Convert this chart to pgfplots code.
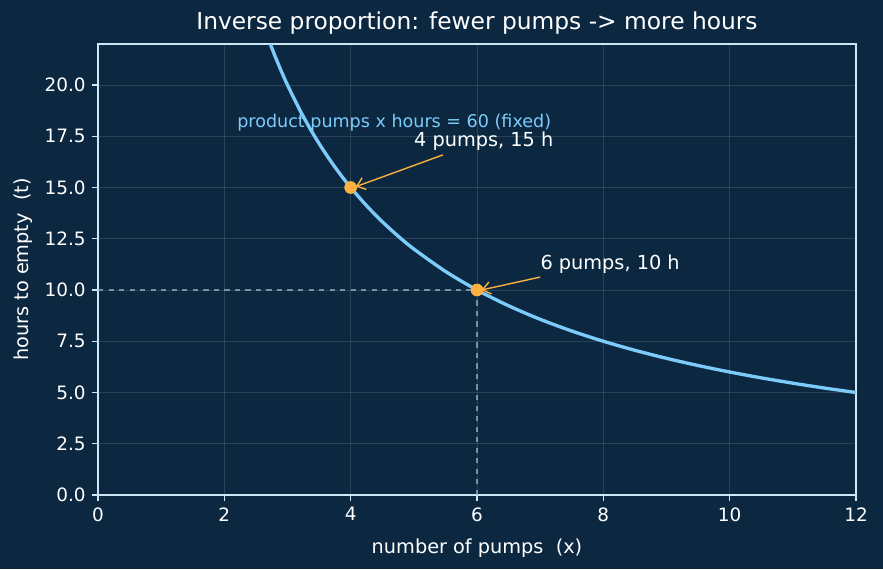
\documentclass[border=0pt]{standalone}
\usepackage{fontspec}
\setmainfont{DejaVu Sans}
\usepackage{pgfplots}
\pgfplotsset{compat=1.18}
\usetikzlibrary{arrows.meta}
\definecolor{bgc}{HTML}{0C2841}
\definecolor{curvec}{HTML}{7CCBFA}
\definecolor{ptc}{HTML}{FBB040}
\definecolor{spinec}{HTML}{CFE6F7}
\definecolor{dashc}{HTML}{8FA8BF}
\begin{document}
\begin{tikzpicture}
\fill[bgc] (0,0) rectangle (503.31pt,324.33pt);
\path[use as bounding box] (0,0) rectangle (503.31pt,324.33pt);
\begin{axis}[
  at={(55.86pt,42.18pt)}, anchor=south west,
  scale only axis, width=432.06pt, height=257.07pt,
  xmin=0, xmax=12, ymin=0, ymax=22,
  xtick={0,2,4,6,8,10,12},
  ytick={0,2.5,5,7.5,10,12.5,15,17.5,20},
  yticklabel style={/pgf/number format/.cd, fixed, fixed zerofill, precision=1},
  /pgf/number format/assume math mode=true,
  tick pos=left,
  tick style={spinec, line width=0.6pt},
  tick align=outside, major tick length=3.5pt,
  axis line style={spinec, line width=0.8pt},
  ticklabel style={white, font=\fontsize{10.5}{12}\selectfont},
  grid=major, major grid style={white, opacity=0.12, line width=0.5pt},
  xlabel={number of pumps\ \ (x)}, ylabel={hours to empty\ \ (t)},
  label style={white, font=\fontsize{11}{13}\selectfont},
  xlabel style={yshift=-3pt}, ylabel style={yshift=0pt},
  title={Inverse proportion: fewer pumps -> more hours},
  title style={white, font=\fontsize{13.3}{15}\selectfont, yshift=-4pt},
  clip=true,
]
\addplot[dashc, dashed, opacity=0.8, line width=0.6pt, forget plot] coordinates {(0,10) (6,10)};
\addplot[dashc, dashed, opacity=0.8, line width=0.6pt, forget plot] coordinates {(6,0) (6,10)};
\addplot[curvec, line width=1.9pt, smooth] coordinates {
(2.5,24) (2.6,23.077) (2.7,22.222) (2.8,21.429) (2.9,20.690) (3,20) (3.2,18.75) (3.4,17.647) (3.6,16.667) (3.8,15.789) (4,15) (4.25,14.118) (4.5,13.333) (4.75,12.632) (5,12) (5.5,10.909) (6,10) (6.5,9.231) (7,8.571) (7.5,8) (8,7.5) (8.5,7.059) (9,6.667) (9.5,6.316) (10,6) (10.5,5.714) (11,5.455) (11.5,5.217) (12,5)};
\addplot[only marks, mark=*, mark size=3.4pt, ptc, mark options={draw=ptc, fill=ptc}] coordinates {(4,15) (6,10)};
\draw[ptc, line width=0.8pt, -{Straight Barb[length=4.5pt,width=7pt]}] (axis cs:5.46,16.59) -- (axis cs:4.08,15.04);
\draw[ptc, line width=0.8pt, -{Straight Barb[length=4.5pt,width=7pt]}] (axis cs:7.0,10.63) -- (axis cs:6.07,10.0);
\node[anchor=base west, text=curvec, font=\fontsize{10}{12}\selectfont, inner sep=0pt] at (axis cs:2.2,17.95) {product pumps x hours = 60 (fixed)};
\node[anchor=base west, text=white, font=\fontsize{11}{13}\selectfont, inner sep=0pt] at (axis cs:5,17) {4 pumps, 15 h};
\node[anchor=base west, text=white, font=\fontsize{11}{13}\selectfont, inner sep=0pt] at (axis cs:7,11) {6 pumps, 10 h};
\end{axis}
\end{tikzpicture}
\end{document}
